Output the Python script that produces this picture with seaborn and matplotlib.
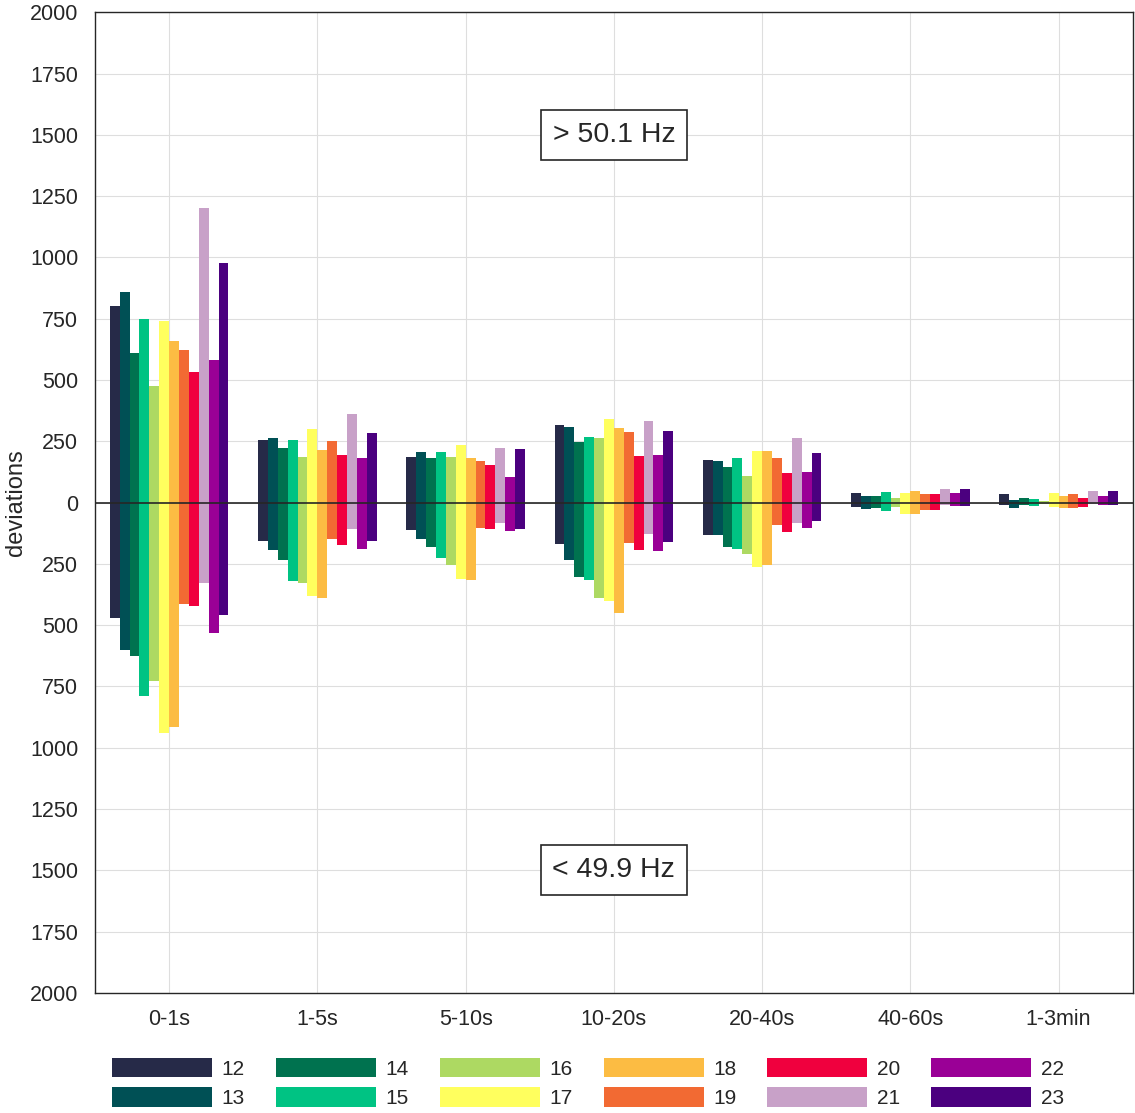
import numpy as np
import pandas as pd
import matplotlib
matplotlib.use("Agg")
import matplotlib.pyplot as plt
import seaborn as sns

# --- data ---
categories = ['0-1s', '1-5s', '5-10s', '10-20s', '20-40s', '40-60s', '1-3min']
hours = ['12', '13', '14', '15', '16', '17', '18', '19', '20', '21', '22', '23']

# deviations above 50.1 Hz, one list per category (hours 12..23)
above_01s = [800, 860, 609, 747, 476, 740, 658, 622, 531, 1200, 580, 978]
above_15s = [255, 263, 223, 255, 185, 298, 215, 252, 193, 360, 182, 283]
above_510s = [185, 206, 180, 208, 187, 236, 180, 170, 154, 222, 104, 217]
above_1020s = [316, 309, 248, 268, 264, 339, 302, 286, 188, 332, 193, 291]
above_2040s = [174, 170, 143, 181, 109, 210, 210, 183, 120, 264, 125, 204]
above_4060s = [38, 25, 25, 42, 19, 40, 45, 33, 33, 56, 40, 56]
above_13min = [35, 11, 18, 15, 8, 38, 25, 33, 19, 49, 25, 49]

# deviations below 49.9 Hz
below_01s = [472, 603, 626, 789, 727, 942, 916, 413, 421, 330, 531, 457]
below_15s = [157, 193, 236, 320, 327, 381, 388, 150, 173, 109, 191, 159]
below_510s = [112, 150, 180, 225, 255, 311, 315, 103, 106, 82, 116, 106]
below_1020s = [170, 234, 302, 316, 388, 402, 449, 166, 193, 127, 197, 161]
below_2040s = [132, 132, 180, 188, 210, 262, 255, 93, 120, 83, 104, 76]
below_4060s = [19, 26, 22, 35, 19, 46, 46, 29, 29, 12, 16, 16]
below_13min = [12, 22, 12, 16, 5, 19, 23, 22, 19, 5, 12, 12]

colors = ['#262a48', '#005055', '#00724f', '#00c383', '#add962', '#ffff5e',
          '#fcbc43', '#f26a33', '#f0003e', '#c8a1c8', '#9a0096', '#4b007f']

above = [above_01s, above_15s, above_510s, above_1020s, above_2040s, above_4060s, above_13min]
below = [below_01s, below_15s, below_510s, below_1020s, below_2040s, below_4060s, below_13min]

rows = []
for cat, up, down in zip(categories, above, below):
    for h, u, d in zip(hours, up, down):
        rows.append({'interval': cat, 'hour': h, 'above': u, 'below': -d})
df = pd.DataFrame(rows)

sns.set_theme(style="white")
plt.rcParams['font.family'] = ['Liberation Sans', 'DejaVu Sans']

fig = plt.figure(figsize=(11.35, 11.13), dpi=100)
ax = fig.add_axes([0.0837, 0.108, 0.9143, 0.881])

palette = dict(zip(hours, colors))
sns.barplot(data=df, x='interval', y='above', hue='hour', palette=palette,
            width=0.8, gap=0, saturation=1, linewidth=0, ax=ax, legend=True)
sns.barplot(data=df, x='interval', y='below', hue='hour', palette=palette,
            width=0.8, gap=0, saturation=1, linewidth=0, ax=ax, legend=False)

ax.set_xlim(-0.5, len(categories) - 0.5)
ax.set_ylim(-2000, 2000)
yt = np.arange(-2000, 2001, 250)
ax.set_yticks(yt)
ax.set_yticklabels([str(abs(v)) for v in yt])
ax.set_xlabel('')
ax.set_ylabel('deviations', fontsize=17, color='#262626', labelpad=2)
ax.tick_params(axis='both', labelsize=15.5, colors='#262626', direction='in',
               length=5, width=1)
ax.tick_params(axis='x', pad=12)
ax.tick_params(axis='y', pad=12)
ax.grid(True, color='#dedede', linewidth=0.8)
ax.set_axisbelow(True)
for s in ax.spines.values():
    s.set_color('#262626')
    s.set_linewidth(1.0)
ax.axhline(0, color='#262626', linewidth=1.2, zorder=3)

box = dict(boxstyle='square,pad=0.42', facecolor='white', edgecolor='#262626', linewidth=1.2)
ax.text(3, 1500, '> 50.1 Hz', ha='center', va='center', fontsize=20.5, color='#262626', bbox=box)
ax.text(3, -1500, '< 49.9 Hz', ha='center', va='center', fontsize=20.5, color='#262626', bbox=box)

handles, labels = ax.get_legend_handles_labels()
ax.get_legend().remove()
fig.legend(handles[:12], labels[:12], ncol=6, loc='center', bbox_to_anchor=(0.518, 0.027),
           frameon=False, fontsize=15, handlelength=4.8, handleheight=1.05,
           handletextpad=0.45, columnspacing=1.5, labelspacing=0.42,
           labelcolor='#262626')

fig.savefig('out.png', dpi=100)
